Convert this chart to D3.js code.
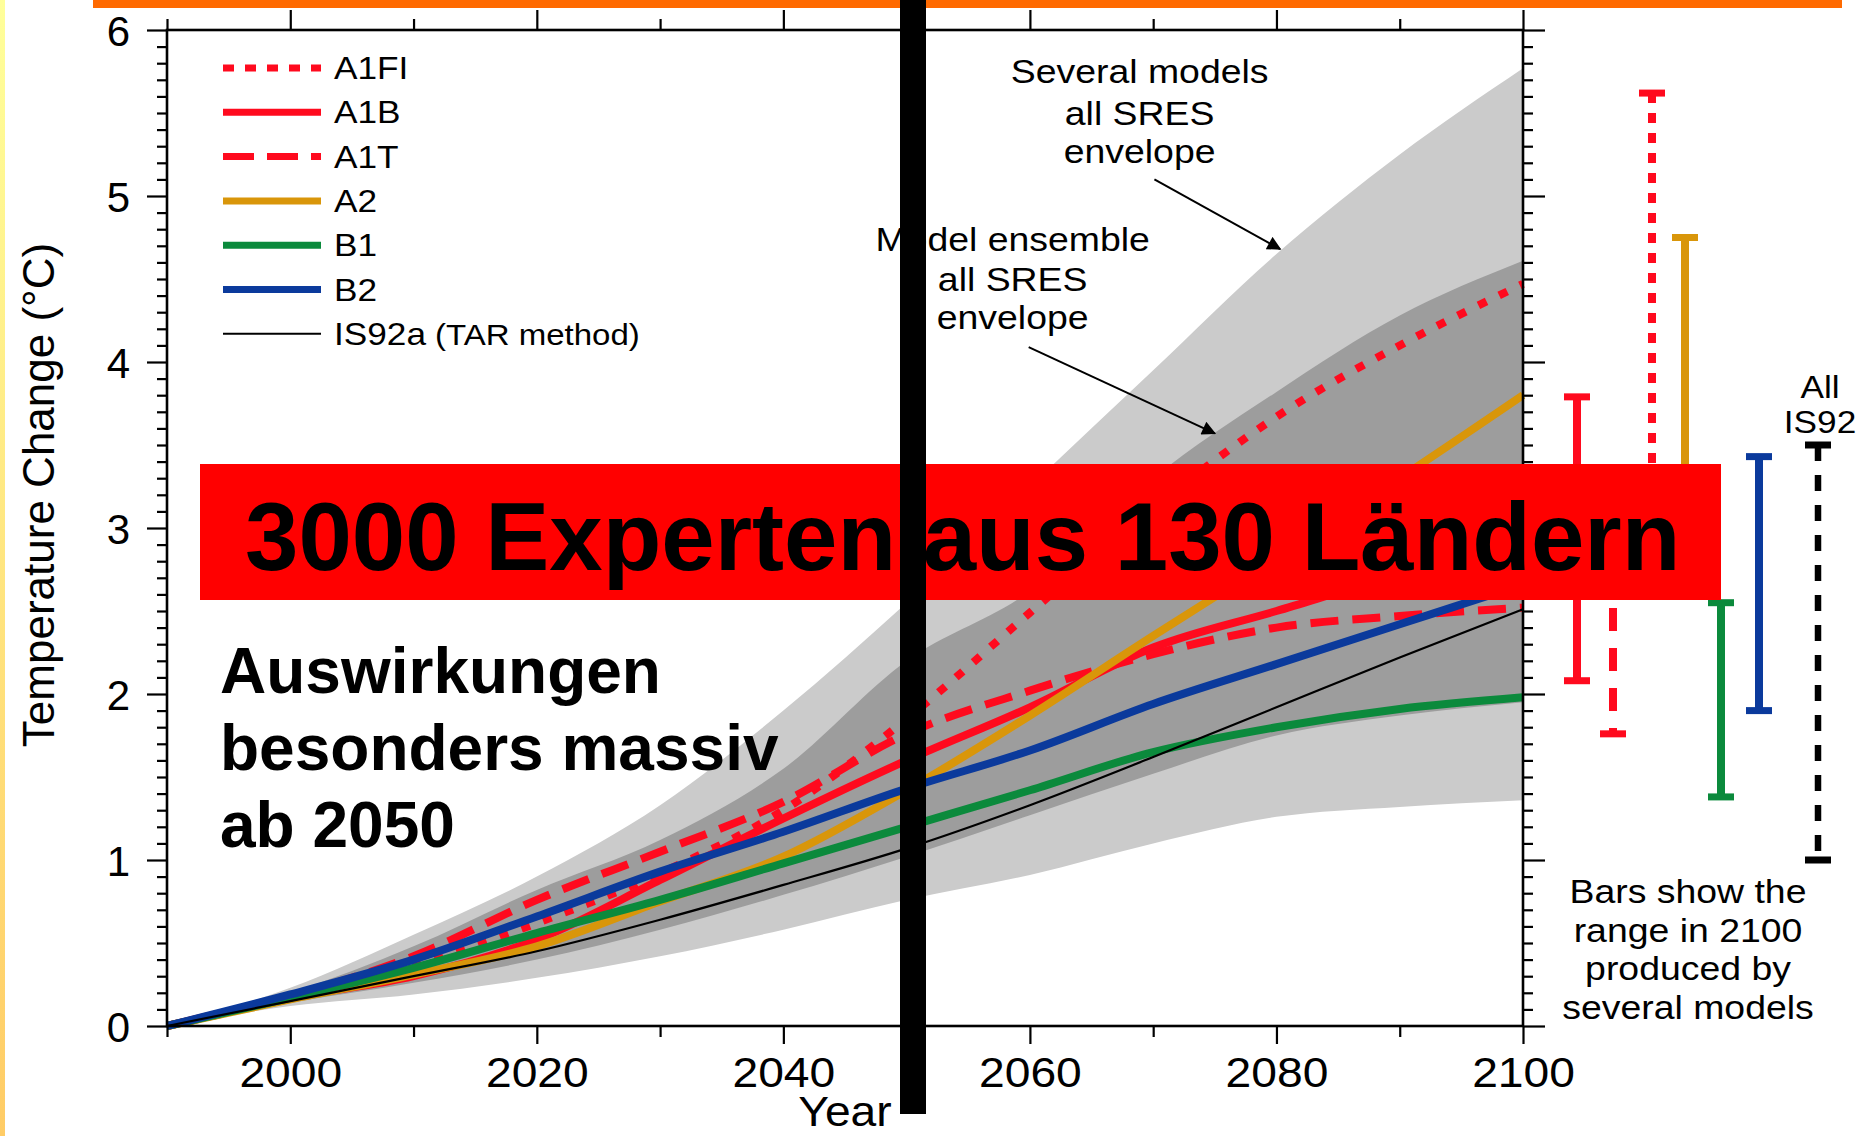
<!DOCTYPE html>
<html>
<head>
<meta charset="utf-8">
<script src="https://cdn.jsdelivr.net/npm/d3@7"></script>
<style>
  html, body { margin: 0; padding: 0; background: #ffffff; }
  svg { display: block; }
  text { font-family: "Liberation Sans", Arial, Helvetica, sans-serif; fill: #000; }
</style>
</head>
<body>
<svg id="chart" width="1869" height="1136"></svg>
<script>
// ---------- data ----------
const years = [1990, 2000, 2010, 2020, 2030, 2040, 2050, 2060, 2070, 2080, 2090, 2100];

// global mean temperature change (°C) per scenario
const a1fi  = [0, 0.17, 0.36, 0.62, 0.92, 1.30, 1.85, 2.49, 3.12, 3.67, 4.10, 4.47];
const a1b   = [0, 0.17, 0.30, 0.52, 0.88, 1.25, 1.60, 1.92, 2.28, 2.50, 2.72, 2.90];
const a1t   = [0, 0.18, 0.42, 0.76, 1.05, 1.35, 1.76, 2.02, 2.24, 2.40, 2.47, 2.52];
const a2    = [0, 0.16, 0.31, 0.48, 0.75, 1.02, 1.42, 1.87, 2.35, 2.82, 3.30, 3.80];
const b1    = [0, 0.17, 0.35, 0.56, 0.76, 0.98, 1.20, 1.42, 1.65, 1.80, 1.91, 1.98];
const b2    = [0, 0.19, 0.40, 0.66, 0.93, 1.17, 1.43, 1.66, 1.94, 2.18, 2.42, 2.66];
const is92a = [0, 0.15, 0.30, 0.45, 0.64, 0.85, 1.07, 1.33, 1.62, 1.92, 2.22, 2.51];

// envelopes
const severalLow   = [0, 0.12, 0.19, 0.29, 0.42, 0.58, 0.76, 0.91, 1.10, 1.26, 1.32, 1.36];
const severalHigh  = [0, 0.23, 0.55, 0.90, 1.33, 1.90, 2.55, 3.25, 3.95, 4.65, 5.25, 5.77];
const ensembleLow  = [0, 0.14, 0.26, 0.40, 0.58, 0.79, 1.02, 1.27, 1.52, 1.75, 1.87, 1.95];
const ensembleHigh = [0, 0.20, 0.48, 0.82, 1.12, 1.55, 2.20, 2.62, 3.30, 3.82, 4.28, 4.61];

// ranges in 2100 produced by several models
const rangeNames = ["A1B", "A1T", "A1FI", "A2", "B1", "B2", "IS92"];
const rangeLow   = [2.08, 1.76, 3.10, 3.00, 1.38, 1.90, 1.00];
const rangeHigh  = [3.79, 3.00, 5.62, 4.75, 2.55, 3.43, 3.50];

// axis ticks
const xTickValues = [1990, 2000, 2010, 2020, 2030, 2040, 2050, 2060, 2070, 2080, 2090, 2100];
const xTickLabels = ["", "2000", "", "2020", "", "2040", "", "2060", "", "2080", "", "2100"];
const yTickValues = [0, 1, 2, 3, 4, 5, 6];
const yTickLabels = ["0", "1", "2", "3", "4", "5", "6"];

const legendLabels = ["A1FI", "A1B", "A1T", "A2", "B1", "B2", "IS92a"];

// ---------- styles ----------
const RED = "#ff0a1e", GOLD = "#d9960a", GREEN = "#0b8a3c", BLUE = "#0b3a9c";
const styles = {
  A1FI:  { color: RED,   dash: "9,14",  w: 8 },
  A1B:   { color: RED,   dash: null,    w: 8 },
  A1T:   { color: RED,   dash: "28,14", w: 8 },
  A2:    { color: GOLD,  dash: null,    w: 8 },
  B1:    { color: GREEN, dash: null,    w: 8 },
  B2:    { color: BLUE,  dash: null,    w: 8 },
  IS92a: { color: "#000", dash: null,   w: 2.2 }
};
const seriesValues = { A1FI: a1fi, A1B: a1b, A1T: a1t, A2: a2, B1: b1, B2: b2, IS92a: is92a };
const rangeStyles = {
  A1B:  { color: RED,   dash: null },
  A1T:  { color: RED,   dash: "23,17" },
  A1FI: { color: RED,   dash: "10,10" },
  A2:   { color: GOLD,  dash: null },
  B1:   { color: GREEN, dash: null },
  B2:   { color: BLUE,  dash: null },
  IS92: { color: "#000", dash: "16,14" }
};
// horizontal offset of each range bar from the right axis
const rangeOffsets = { A1B: 54, A1T: 90, A1FI: 129, A2: 162, B1: 198, B2: 236, IS92: 295 };

// ---------- layout ----------
const svg = d3.select("#chart");
const W = 1869, H = 1136;
const x = d3.scaleLinear().domain([1990, 2100]).range([167, 1523]);
const y = d3.scaleLinear().domain([0, 6]).range([1026, 30]);
const SX = 1.1; // horizontal stretch of the figure lettering

function placeText(sel, px, py, sx) {
  return sel.attr("x", 0).attr("y", 0)
    .attr("transform", `translate(${px},${py}) scale(${sx},1)`);
}

// page frame decorations
const defs = svg.append("defs");
const grad = defs.append("linearGradient").attr("id", "edge").attr("x1", 0).attr("y1", 0).attr("x2", 0).attr("y2", 1);
grad.append("stop").attr("offset", "0%").attr("stop-color", "#ffff9a");
grad.append("stop").attr("offset", "100%").attr("stop-color", "#ffcc66");
defs.append("marker").attr("id", "arrowhead")
  .attr("viewBox", "0 0 10 10").attr("refX", 9).attr("refY", 5)
  .attr("markerWidth", 8).attr("markerHeight", 7).attr("markerUnits", "strokeWidth")
  .attr("orient", "auto")
  .append("path").attr("d", "M0,0 L10,5 L0,10 Z").attr("fill", "#000");

svg.append("rect").attr("width", W).attr("height", H).attr("fill", "#fff");
svg.append("rect").attr("x", 0).attr("y", 0).attr("width", 5).attr("height", H).attr("fill", "url(#edge)");

// ---------- envelopes ----------
const plot = svg.append("g");
const area = (lo, hi) => d3.area()
  .x((d, i) => x(years[i]))
  .y0((d, i) => y(lo[i]))
  .y1((d, i) => y(hi[i]))
  .curve(d3.curveMonotoneX)(years);

plot.append("path").attr("d", area(severalLow, severalHigh)).attr("fill", "#cbcbcb");
plot.append("path").attr("d", area(ensembleLow, ensembleHigh)).attr("fill", "#9d9d9d");

// ---------- scenario lines ----------
const lineGen = d3.line().x(d => x(d[0])).y(d => y(d[1])).curve(d3.curveMonotoneX);
legendLabels.forEach(name => {
  const st = styles[name];
  const pts = years.map((yr, i) => [yr, seriesValues[name][i]]);
  plot.append("path")
    .attr("d", lineGen(pts))
    .attr("fill", "none")
    .attr("stroke", st.color)
    .attr("stroke-width", st.w)
    .attr("stroke-dasharray", st.dash)
    .attr("stroke-linecap", "butt");
});

// ---------- axes ----------
const axes = svg.append("g");
function styleAxis(g) {
  g.select(".domain").remove();
  g.selectAll(".tick line").attr("stroke", "#000").attr("stroke-width", 2.2);
}
const majorYears = xTickValues.filter((v, i) => xTickLabels[i] !== "");
const minorYears = xTickValues.filter((v, i) => xTickLabels[i] === "");
const minorTemps = d3.range(0, 61).map(k => k / 10).filter(v => Math.abs(v - Math.round(v)) > 1e-6);

// bottom
axes.append("g").attr("transform", `translate(0,${y(0)})`)
  .call(d3.axisBottom(x).tickValues(minorYears).tickSize(11).tickFormat(""))
  .call(styleAxis);
const bottomMajor = axes.append("g").attr("transform", `translate(0,${y(0)})`)
  .call(d3.axisBottom(x).tickValues(majorYears).tickSize(18)
    .tickFormat(v => xTickLabels[xTickValues.indexOf(v)]))
  .call(styleAxis);
bottomMajor.selectAll(".tick text")
  .attr("font-size", 42).attr("dy", 0).attr("y", 61)
  .attr("font-family", "'Liberation Sans', Arial, sans-serif")
  .attr("transform", `scale(${SX},1)`);

// top
axes.append("g").attr("transform", `translate(0,${y(6)})`)
  .call(d3.axisTop(x).tickValues(minorYears).tickSize(11).tickFormat(""))
  .call(styleAxis);
axes.append("g").attr("transform", `translate(0,${y(6)})`)
  .call(d3.axisTop(x).tickValues(majorYears).tickSize(20).tickFormat(""))
  .call(styleAxis);

// left
axes.append("g").attr("transform", `translate(${x(1990)},0)`)
  .call(d3.axisLeft(y).tickValues(minorTemps).tickSize(10).tickFormat(""))
  .call(styleAxis);
const leftMajor = axes.append("g").attr("transform", `translate(${x(1990)},0)`)
  .call(d3.axisLeft(y).tickValues(yTickValues).tickSize(20)
    .tickFormat(v => yTickLabels[yTickValues.indexOf(v)]))
  .call(styleAxis);
leftMajor.selectAll(".tick text")
  .attr("font-size", 42).attr("x", -37).attr("dy", "0.36em")
  .attr("font-family", "'Liberation Sans', Arial, sans-serif");

// right
axes.append("g").attr("transform", `translate(${x(2100)},0)`)
  .call(d3.axisRight(y).tickValues(minorTemps).tickSize(10).tickFormat(""))
  .call(styleAxis);
axes.append("g").attr("transform", `translate(${x(2100)},0)`)
  .call(d3.axisRight(y).tickValues(yTickValues).tickSize(22).tickFormat(""))
  .call(styleAxis);

// frame
axes.append("rect")
  .attr("x", x(1990)).attr("y", y(6))
  .attr("width", x(2100) - x(1990)).attr("height", y(0) - y(6))
  .attr("fill", "none").attr("stroke", "#000").attr("stroke-width", 2.6);

// axis titles
svg.append("text")
  .attr("transform", `translate(54,${(y(0) + y(6)) / 2 - 33}) rotate(-90)`)
  .attr("text-anchor", "middle").attr("font-size", 44)
  .text("Temperature Change (°C)");
placeText(svg.append("text"), 845, 1126, SX)
  .attr("text-anchor", "middle").attr("font-size", 42).text("Year");

// ---------- legend ----------
const legend = svg.append("g");
legendLabels.forEach((name, i) => {
  const st = styles[name];
  const ry = 68 + i * 44.3;
  legend.append("line")
    .attr("x1", 223).attr("x2", 321).attr("y1", ry).attr("y2", ry)
    .attr("stroke", st.color)
    .attr("stroke-width", name === "IS92a" ? 2 : 7)
    .attr("stroke-dasharray", name === "A1FI" ? "11,11" : (name === "A1T" ? "31,13" : null));
  const t = placeText(legend.append("text"), 334, ry + 11, SX).attr("font-size", 32);
  t.append("tspan").text(name);
  if (name === "IS92a") t.append("tspan").attr("font-size", 30).text(" (TAR method)");
});

// ---------- annotations ----------
const ann = svg.append("g");
[["Several models", 5.68], ["all SRES", 5.43], ["envelope", 5.20]].forEach(([s, v]) => {
  placeText(ann.append("text"), x(2068.9), y(v), SX)
    .attr("text-anchor", "middle").attr("font-size", 34).text(s);
});
[["Model ensemble", 4.67], ["all SRES", 4.43], ["envelope", 4.20]].forEach(([s, v]) => {
  placeText(ann.append("text"), x(2058.6), y(v), SX)
    .attr("text-anchor", "middle").attr("font-size", 34).text(s);
});
[[[2070.1, 5.10], [2080.3, 4.68]], [[2059.9, 4.09], [2075.0, 3.57]]].forEach(([a, b]) => {
  ann.append("line")
    .attr("x1", x(a[0])).attr("y1", y(a[1]))
    .attr("x2", x(b[0])).attr("y2", y(b[1]))
    .attr("stroke", "#000").attr("stroke-width", 2)
    .attr("marker-end", "url(#arrowhead)");
});

// ---------- 2100 range bars ----------
const bars = svg.append("g");
rangeNames.forEach((name, i) => {
  const st = rangeStyles[name];
  const bx = x(2100) + rangeOffsets[name];
  const lw = name === "IS92" ? 6.5 : 8;
  bars.append("line")
    .attr("x1", bx).attr("x2", bx)
    .attr("y1", y(rangeHigh[i])).attr("y2", y(rangeLow[i]))
    .attr("stroke", st.color).attr("stroke-width", lw)
    .attr("stroke-dasharray", st.dash);
  [rangeHigh[i], rangeLow[i]].forEach(v => {
    bars.append("line")
      .attr("x1", bx - 13).attr("x2", bx + 13)
      .attr("y1", y(v)).attr("y2", y(v))
      .attr("stroke", st.color).attr("stroke-width", 7);
  });
});
const isX = x(2100) + rangeOffsets.IS92;
placeText(bars.append("text"), isX + 2, 398, SX).attr("text-anchor", "middle").attr("font-size", 32).text("All");
placeText(bars.append("text"), isX + 2, 433, SX).attr("text-anchor", "middle").attr("font-size", 32).text("IS92");

[["Bars show the", 903], ["range in 2100", 942], ["produced by", 980], ["several models", 1019]].forEach(([s, py]) => {
  placeText(bars.append("text"), 1688, py, SX)
    .attr("text-anchor", "middle").attr("font-size", 34).text(s);
});

// ---------- overlays ----------
svg.append("text")
  .attr("x", 220).attr("font-size", 64).attr("font-weight", "bold")
  .selectAll("tspan")
  .data(["Auswirkungen", "besonders massiv", "ab 2050"])
  .join("tspan")
  .attr("x", 220)
  .attr("y", (d, i) => 693 + i * 77)
  .text(d => d);

svg.append("rect").attr("x", 200).attr("y", 464).attr("width", 1521).attr("height", 136).attr("fill", "#ff0000");
svg.append("text")
  .attr("x", 245).attr("y", 570)
  .attr("font-size", 96).attr("font-weight", "bold")
  .text("3000 Experten aus 130 Ländern");

svg.append("rect").attr("x", 93).attr("y", 0).attr("width", 1749).attr("height", 8).attr("fill", "#ff6a00");
svg.append("rect").attr("x", 900).attr("y", 0).attr("width", 26).attr("height", 1114).attr("fill", "#000");
</script>
</body>
</html>
